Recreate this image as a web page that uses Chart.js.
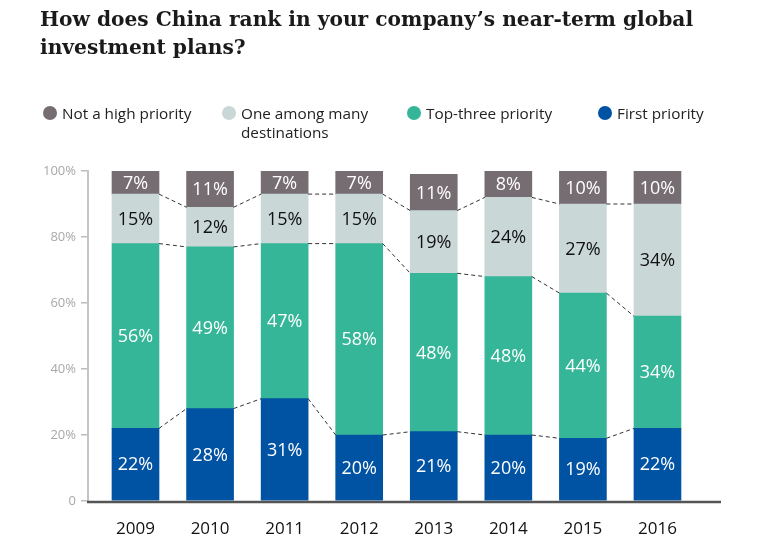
<!DOCTYPE html>
<html>
<head>
  <title>China investment priority</title>
  <script src="https://cdn.jsdelivr.net/npm/chart.js"></script>
  <style>
    body { margin: 0; background: #fff; }
    #wrap { position: relative; width: 760px; height: 541px; overflow: hidden; }
    #title {
      position: absolute; left: 40px; top: 5px;
      font: bold 20.2px "DejaVu Serif", serif;
      line-height: 28px; color: #1a1a1a; white-space: nowrap;
    }
    .leg { position: absolute; font: 15.3px "Open Sans", sans-serif; color: #222; line-height: 19px; }
    .leg i { position: absolute; left: -19px; top: 2px; width: 14px; height: 14px; border-radius: 50%; }
    canvas { position: absolute; left: 0; top: 0; }
  </style>
</head>
<body>
<div id="wrap">
  <canvas id="myChart" width="760" height="541"></canvas>
  <div id="title">How does China rank in your company’s near-term global<br>investment plans?</div>
  <div id="legend"></div>
</div>

<script>
  const years = ['2009', '2010', '2011', '2012', '2013', '2014', '2015', '2016'];
  const firstPriority = [22, 28, 31, 20, 21, 20, 19, 22];
  const topThree      = [56, 49, 47, 58, 48, 48, 44, 34];
  const oneAmongMany  = [15, 12, 15, 15, 19, 24, 27, 34];
  const notHigh       = [7, 11, 7, 7, 11, 8, 10, 10];
  const yTicks = [0, 20, 40, 60, 80, 100];

  const series = [
    { label: 'First priority', data: firstPriority, color: '#0052a3', text: '#fff', legX: 617 },
    { label: 'Top-three priority', data: topThree, color: '#35b698', text: '#fff', legX: 426 },
    { label: 'One among many|destinations', data: oneAmongMany, color: '#c9d7d6', text: '#111', legX: 241 },
    { label: 'Not a high priority', data: notHigh, color: '#766d72', text: '#fff', legX: 62 }
  ];

  // html legend (second entry wraps onto two lines)
  const legend = document.getElementById('legend');
  series.slice().reverse().forEach(s => {
    const d = document.createElement('div');
    d.className = 'leg';
    d.style.left = s.legX + 'px';
    d.style.top = '104px';
    d.innerHTML = '<i style="background:' + s.color + '"></i>' + s.label.split('|').join('<br>');
    legend.appendChild(d);
  });

  // dashed lines joining the segment tops of neighbouring bars
  const connectors = {
    id: 'connectors',
    afterDatasetsDraw(chart) {
      const ctx = chart.ctx;
      ctx.save();
      ctx.strokeStyle = '#333';
      ctx.lineWidth = 1;
      ctx.setLineDash([4, 3]);
      for (let d = 0; d < 3; d++) {
        const bars = chart.getDatasetMeta(d).data;
        for (let i = 0; i < bars.length - 1; i++) {
          const a = bars[i], b = bars[i + 1];
          ctx.beginPath();
          ctx.moveTo(a.x + a.width / 2, a.y);
          ctx.lineTo(b.x - b.width / 2, b.y);
          ctx.stroke();
        }
      }
      ctx.restore();
    }
  };

  // value labels centred in each segment
  const valueLabels = {
    id: 'valueLabels',
    afterDatasetsDraw(chart) {
      const ctx = chart.ctx;
      ctx.save();
      ctx.font = '18px "Open Sans", sans-serif';
      ctx.textAlign = 'center';
      ctx.textBaseline = 'middle';
      chart.data.datasets.forEach((ds, d) => {
        chart.getDatasetMeta(d).data.forEach((bar, i) => {
          ctx.fillStyle = series[d].text;
          ctx.fillText(ds.data[i].y + '%', bar.x, (bar.y + bar.base) / 2 + 1);
        });
      });
      ctx.restore();
    }
  };

  // x axis line
  const baseLine = {
    id: 'baseLine',
    afterDatasetsDraw(chart) {
      const a = chart.chartArea, ctx = chart.ctx;
      const y0 = chart.scales.y.getPixelForValue(0);
      ctx.save();
      ctx.strokeStyle = '#555';
      ctx.lineWidth = 2.5;
      ctx.beginPath();
      ctx.moveTo(a.left - 1, y0 + 1);
      ctx.lineTo(a.right, y0 + 1);
      ctx.stroke();
      ctx.restore();
    }
  };

  new Chart(document.getElementById('myChart'), {
    type: 'bar',
    data: {
      datasets: series.map(s => ({
        label: s.label,
        data: s.data.map((v, i) => ({ x: i, y: v })),
        backgroundColor: s.color,
        borderWidth: 0,
        barThickness: 47
      }))
    },
    options: {
      responsive: false,
      animation: false,
      layout: { padding: { left: 0, top: 171, right: 39, bottom: 0 } },
      plugins: { legend: { display: false }, tooltip: { enabled: false } },
      scales: {
        x: {
          type: 'linear',
          stacked: true,
          offset: false,
          min: -0.637,
          max: 7.852,
          afterBuildTicks: s => { s.ticks = years.map((y, i) => ({ value: i })); },
          afterFit: s => { s.height = 40; },
          grid: { display: false },
          border: { display: false },
          ticks: {
            padding: 10,
            color: '#111',
            font: { family: 'Open Sans', size: 17 },
            callback: v => years[v]
          }
        },
        y: {
          stacked: true,
          min: 0,
          max: 100,
          afterFit: s => { s.width = 88; },
          afterBuildTicks: s => { s.ticks = yTicks.map(v => ({ value: v })); },
          grid: { drawOnChartArea: false, color: '#bdbdbd', tickLength: 7, lineWidth: 1.5 },
          border: { color: '#c4c4c4', width: 2 },
          ticks: {
            padding: 5,
            color: '#a8a8a8',
            font: { family: 'Open Sans', size: 13 },
            callback: v => v === 0 ? '0' : v + '%'
          }
        }
      }
    },
    plugins: [connectors, valueLabels, baseLine]
  });
</script>
</body>
</html>
